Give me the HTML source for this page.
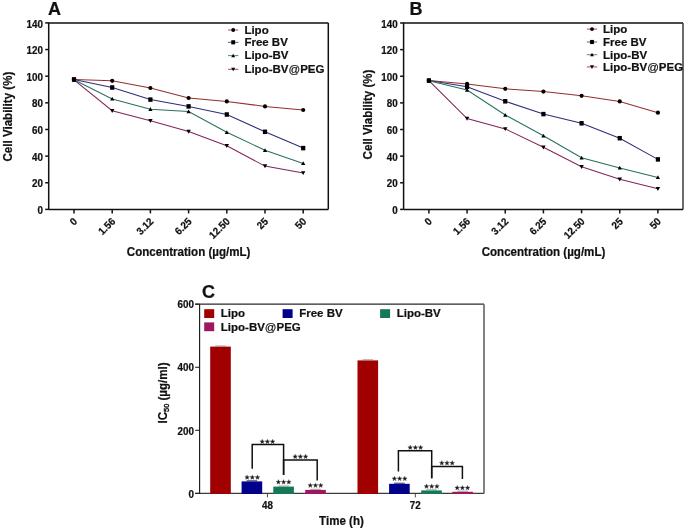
<!DOCTYPE html>
<html><head><meta charset="utf-8"><style>
html,body{margin:0;padding:0;background:#fff;}
svg{display:block;filter:blur(0.3px);}
text{font-family:"Liberation Sans", sans-serif;font-weight:bold;fill:#111;stroke:#111;stroke-width:0.22px;}
</style></head><body>
<svg width="685" height="532" viewBox="0 0 685 532">
<rect width="685" height="532" fill="#fff"/>
<path d="M48.7,209.4V22.9H328.3" fill="none" stroke="#111" stroke-width="1.5"/>
<path d="M328.3,22.9V209.4" fill="none" stroke="#111" stroke-width="1.5"/>
<path d="M48.7,209.4H328.3" fill="none" stroke="#111" stroke-width="1.5"/>
<line x1="45.2" y1="209.40" x2="48.7" y2="209.40" stroke="#111" stroke-width="1.5"/>
<text transform="translate(43.00,214.00) scale(0.945,1)" text-anchor="end" font-size="10.4">0</text>
<line x1="45.2" y1="182.76" x2="48.7" y2="182.76" stroke="#111" stroke-width="1.5"/>
<text transform="translate(43.00,187.36) scale(0.945,1)" text-anchor="end" font-size="10.4">20</text>
<line x1="45.2" y1="156.11" x2="48.7" y2="156.11" stroke="#111" stroke-width="1.5"/>
<text transform="translate(43.00,160.71) scale(0.945,1)" text-anchor="end" font-size="10.4">40</text>
<line x1="45.2" y1="129.47" x2="48.7" y2="129.47" stroke="#111" stroke-width="1.5"/>
<text transform="translate(43.00,134.07) scale(0.945,1)" text-anchor="end" font-size="10.4">60</text>
<line x1="45.2" y1="102.83" x2="48.7" y2="102.83" stroke="#111" stroke-width="1.5"/>
<text transform="translate(43.00,107.43) scale(0.945,1)" text-anchor="end" font-size="10.4">80</text>
<line x1="45.2" y1="76.19" x2="48.7" y2="76.19" stroke="#111" stroke-width="1.5"/>
<text transform="translate(43.00,80.79) scale(0.945,1)" text-anchor="end" font-size="10.4">100</text>
<line x1="45.2" y1="49.54" x2="48.7" y2="49.54" stroke="#111" stroke-width="1.5"/>
<text transform="translate(43.00,54.14) scale(0.945,1)" text-anchor="end" font-size="10.4">120</text>
<line x1="45.2" y1="22.90" x2="48.7" y2="22.90" stroke="#111" stroke-width="1.5"/>
<text transform="translate(43.00,27.50) scale(0.945,1)" text-anchor="end" font-size="10.4">140</text>
<line x1="74.00" y1="209.4" x2="74.00" y2="213.4" stroke="#111" stroke-width="1.5"/>
<text transform="translate(77.80,222.10) rotate(-45) scale(0.945,1)" text-anchor="end" font-size="10.4">0</text>
<line x1="112.20" y1="209.4" x2="112.20" y2="213.4" stroke="#111" stroke-width="1.5"/>
<text transform="translate(116.00,222.10) rotate(-45) scale(0.945,1)" text-anchor="end" font-size="10.4">1.56</text>
<line x1="150.40" y1="209.4" x2="150.40" y2="213.4" stroke="#111" stroke-width="1.5"/>
<text transform="translate(154.20,222.10) rotate(-45) scale(0.945,1)" text-anchor="end" font-size="10.4">3.12</text>
<line x1="188.60" y1="209.4" x2="188.60" y2="213.4" stroke="#111" stroke-width="1.5"/>
<text transform="translate(192.40,222.10) rotate(-45) scale(0.945,1)" text-anchor="end" font-size="10.4">6.25</text>
<line x1="226.80" y1="209.4" x2="226.80" y2="213.4" stroke="#111" stroke-width="1.5"/>
<text transform="translate(230.60,222.10) rotate(-45) scale(0.945,1)" text-anchor="end" font-size="10.4">12.50</text>
<line x1="265.00" y1="209.4" x2="265.00" y2="213.4" stroke="#111" stroke-width="1.5"/>
<text transform="translate(268.80,222.10) rotate(-45) scale(0.945,1)" text-anchor="end" font-size="10.4">25</text>
<line x1="303.20" y1="209.4" x2="303.20" y2="213.4" stroke="#111" stroke-width="1.5"/>
<text transform="translate(307.00,222.10) rotate(-45) scale(0.945,1)" text-anchor="end" font-size="10.4">50</text>
<polyline points="74.00,79.6 112.20,80.8 150.40,88 188.60,98 226.80,101.4 265.00,106.4 303.20,110" fill="none" stroke="#952f2b" stroke-width="1.05"/>
<polyline points="74.00,79.4 112.20,87.5 150.40,99.6 188.60,106.4 226.80,114.5 265.00,131.8 303.20,148.1" fill="none" stroke="#2c2d7c" stroke-width="1.05"/>
<polyline points="74.00,79.8 112.20,98.9 150.40,109.2 188.60,111.6 226.80,132.3 265.00,150.3 303.20,163.4" fill="none" stroke="#287060" stroke-width="1.05"/>
<polyline points="74.00,79.8 112.20,110.7 150.40,120.7 188.60,131.5 226.80,145.8 265.00,166.1 303.20,172.9" fill="none" stroke="#82255c" stroke-width="1.05"/>
<circle cx="74.00" cy="79.6" r="2.10" fill="#000"/>
<circle cx="112.20" cy="80.8" r="2.10" fill="#000"/>
<circle cx="150.40" cy="88" r="2.10" fill="#000"/>
<circle cx="188.60" cy="98" r="2.10" fill="#000"/>
<circle cx="226.80" cy="101.4" r="2.10" fill="#000"/>
<circle cx="265.00" cy="106.4" r="2.10" fill="#000"/>
<circle cx="303.20" cy="110" r="2.10" fill="#000"/>
<rect x="71.90" y="77.15" width="4.20" height="4.50" fill="#000"/>
<rect x="110.10" y="85.25" width="4.20" height="4.50" fill="#000"/>
<rect x="148.30" y="97.35" width="4.20" height="4.50" fill="#000"/>
<rect x="186.50" y="104.15" width="4.20" height="4.50" fill="#000"/>
<rect x="224.70" y="112.25" width="4.20" height="4.50" fill="#000"/>
<rect x="262.90" y="129.55" width="4.20" height="4.50" fill="#000"/>
<rect x="301.10" y="145.85" width="4.20" height="4.50" fill="#000"/>
<path d="M74.00,77.70L76.10,81.48L71.90,81.48Z" fill="#000"/>
<path d="M112.20,96.80L114.30,100.58L110.10,100.58Z" fill="#000"/>
<path d="M150.40,107.10L152.50,110.88L148.30,110.88Z" fill="#000"/>
<path d="M188.60,109.50L190.70,113.28L186.50,113.28Z" fill="#000"/>
<path d="M226.80,130.20L228.90,133.98L224.70,133.98Z" fill="#000"/>
<path d="M265.00,148.20L267.10,151.98L262.90,151.98Z" fill="#000"/>
<path d="M303.20,161.30L305.30,165.08L301.10,165.08Z" fill="#000"/>
<path d="M74.00,82.00L76.20,78.04L71.80,78.04Z" fill="#000"/>
<path d="M112.20,112.90L114.40,108.94L110.00,108.94Z" fill="#000"/>
<path d="M150.40,122.90L152.60,118.94L148.20,118.94Z" fill="#000"/>
<path d="M188.60,133.70L190.80,129.74L186.40,129.74Z" fill="#000"/>
<path d="M226.80,148.00L229.00,144.04L224.60,144.04Z" fill="#000"/>
<path d="M265.00,168.30L267.20,164.34L262.80,164.34Z" fill="#000"/>
<path d="M303.20,175.10L305.40,171.14L301.00,171.14Z" fill="#000"/>
<line x1="228" y1="30" x2="238.4" y2="30" stroke="#952f2b" stroke-width="1.0" opacity="0.8"/>
<circle cx="233.20" cy="30" r="1.93" fill="#000"/>
<text transform="translate(244.40,33.60) scale(0.975,1)" font-size="11.8">Lipo</text>
<line x1="228" y1="42.3" x2="238.4" y2="42.3" stroke="#2c2d7c" stroke-width="1.0" opacity="0.8"/>
<rect x="231.27" y="40.23" width="3.86" height="4.14" fill="#000"/>
<text transform="translate(244.40,46.10) scale(0.975,1)" font-size="11.8">Free BV</text>
<line x1="228" y1="55.6" x2="238.4" y2="55.6" stroke="#287060" stroke-width="1.0" opacity="0.8"/>
<path d="M233.20,53.67L235.13,57.15L231.27,57.15Z" fill="#000"/>
<text transform="translate(244.40,59.30) scale(0.975,1)" font-size="11.8">Lipo-BV</text>
<line x1="228" y1="69.3" x2="238.4" y2="69.3" stroke="#82255c" stroke-width="1.0" opacity="0.8"/>
<path d="M233.20,71.32L235.22,67.68L231.18,67.68Z" fill="#000"/>
<text transform="translate(244.40,72.90) scale(0.975,1)" font-size="11.8">Lipo-BV<tspan font-weight="normal">@</tspan>PEG</text>
<text transform="translate(188.60,255.60) scale(0.965,1)" text-anchor="middle" font-size="12.0">Concentration (µg/mL)</text>
<text transform="translate(11.80,116.60) rotate(-90) scale(0.965,1)" text-anchor="middle" font-size="12.0">Cell Viability (%)</text>
<text transform="translate(48.00,15.20)" font-size="18" stroke-width="0.45">A</text>
<path d="M403.6,209.4V23H683.0" fill="none" stroke="#111" stroke-width="1.5"/>
<path d="M683.0,23V209.4" fill="none" stroke="#3a3a3a" stroke-width="1.5"/>
<path d="M403.6,209.4H683.0" fill="none" stroke="#111" stroke-width="1.5"/>
<line x1="400.1" y1="209.40" x2="403.6" y2="209.40" stroke="#111" stroke-width="1.5"/>
<text transform="translate(397.60,214.00) scale(0.945,1)" text-anchor="end" font-size="10.4">0</text>
<line x1="400.1" y1="182.77" x2="403.6" y2="182.77" stroke="#111" stroke-width="1.5"/>
<text transform="translate(397.60,187.37) scale(0.945,1)" text-anchor="end" font-size="10.4">20</text>
<line x1="400.1" y1="156.14" x2="403.6" y2="156.14" stroke="#111" stroke-width="1.5"/>
<text transform="translate(397.60,160.74) scale(0.945,1)" text-anchor="end" font-size="10.4">40</text>
<line x1="400.1" y1="129.51" x2="403.6" y2="129.51" stroke="#111" stroke-width="1.5"/>
<text transform="translate(397.60,134.11) scale(0.945,1)" text-anchor="end" font-size="10.4">60</text>
<line x1="400.1" y1="102.89" x2="403.6" y2="102.89" stroke="#111" stroke-width="1.5"/>
<text transform="translate(397.60,107.49) scale(0.945,1)" text-anchor="end" font-size="10.4">80</text>
<line x1="400.1" y1="76.26" x2="403.6" y2="76.26" stroke="#111" stroke-width="1.5"/>
<text transform="translate(397.60,80.86) scale(0.945,1)" text-anchor="end" font-size="10.4">100</text>
<line x1="400.1" y1="49.63" x2="403.6" y2="49.63" stroke="#111" stroke-width="1.5"/>
<text transform="translate(397.60,54.23) scale(0.945,1)" text-anchor="end" font-size="10.4">120</text>
<line x1="400.1" y1="23.00" x2="403.6" y2="23.00" stroke="#111" stroke-width="1.5"/>
<text transform="translate(397.60,27.60) scale(0.945,1)" text-anchor="end" font-size="10.4">140</text>
<line x1="428.90" y1="209.4" x2="428.90" y2="213.4" stroke="#111" stroke-width="1.5"/>
<text transform="translate(432.70,222.10) rotate(-45) scale(0.945,1)" text-anchor="end" font-size="10.4">0</text>
<line x1="467.07" y1="209.4" x2="467.07" y2="213.4" stroke="#111" stroke-width="1.5"/>
<text transform="translate(470.87,222.10) rotate(-45) scale(0.945,1)" text-anchor="end" font-size="10.4">1.56</text>
<line x1="505.24" y1="209.4" x2="505.24" y2="213.4" stroke="#111" stroke-width="1.5"/>
<text transform="translate(509.04,222.10) rotate(-45) scale(0.945,1)" text-anchor="end" font-size="10.4">3.12</text>
<line x1="543.41" y1="209.4" x2="543.41" y2="213.4" stroke="#111" stroke-width="1.5"/>
<text transform="translate(547.21,222.10) rotate(-45) scale(0.945,1)" text-anchor="end" font-size="10.4">6.25</text>
<line x1="581.58" y1="209.4" x2="581.58" y2="213.4" stroke="#111" stroke-width="1.5"/>
<text transform="translate(585.38,222.10) rotate(-45) scale(0.945,1)" text-anchor="end" font-size="10.4">12.50</text>
<line x1="619.75" y1="209.4" x2="619.75" y2="213.4" stroke="#111" stroke-width="1.5"/>
<text transform="translate(623.55,222.10) rotate(-45) scale(0.945,1)" text-anchor="end" font-size="10.4">25</text>
<line x1="657.92" y1="209.4" x2="657.92" y2="213.4" stroke="#111" stroke-width="1.5"/>
<text transform="translate(661.72,222.10) rotate(-45) scale(0.945,1)" text-anchor="end" font-size="10.4">50</text>
<polyline points="428.90,80.6 467.07,83.9 505.24,88.8 543.41,91.6 581.58,95.8 619.75,101.4 657.92,112.7" fill="none" stroke="#952f2b" stroke-width="1.05"/>
<polyline points="428.90,80.5 467.07,86.8 505.24,101.3 543.41,114.1 581.58,123.3 619.75,138.2 657.92,159.4" fill="none" stroke="#2c2d7c" stroke-width="1.05"/>
<polyline points="428.90,80.7 467.07,90 505.24,115 543.41,135.8 581.58,157.8 619.75,167.9 657.92,177.4" fill="none" stroke="#287060" stroke-width="1.05"/>
<polyline points="428.90,80.7 467.07,118.6 505.24,128.9 543.41,147.2 581.58,166.8 619.75,179.2 657.92,188.7" fill="none" stroke="#82255c" stroke-width="1.05"/>
<circle cx="428.90" cy="80.6" r="2.10" fill="#000"/>
<circle cx="467.07" cy="83.9" r="2.10" fill="#000"/>
<circle cx="505.24" cy="88.8" r="2.10" fill="#000"/>
<circle cx="543.41" cy="91.6" r="2.10" fill="#000"/>
<circle cx="581.58" cy="95.8" r="2.10" fill="#000"/>
<circle cx="619.75" cy="101.4" r="2.10" fill="#000"/>
<circle cx="657.92" cy="112.7" r="2.10" fill="#000"/>
<rect x="426.80" y="78.25" width="4.20" height="4.50" fill="#000"/>
<rect x="464.97" y="84.55" width="4.20" height="4.50" fill="#000"/>
<rect x="503.14" y="99.05" width="4.20" height="4.50" fill="#000"/>
<rect x="541.31" y="111.85" width="4.20" height="4.50" fill="#000"/>
<rect x="579.48" y="121.05" width="4.20" height="4.50" fill="#000"/>
<rect x="617.65" y="135.95" width="4.20" height="4.50" fill="#000"/>
<rect x="655.82" y="157.15" width="4.20" height="4.50" fill="#000"/>
<path d="M428.90,78.60L431.00,82.38L426.80,82.38Z" fill="#000"/>
<path d="M467.07,87.90L469.17,91.68L464.97,91.68Z" fill="#000"/>
<path d="M505.24,112.90L507.34,116.68L503.14,116.68Z" fill="#000"/>
<path d="M543.41,133.70L545.51,137.48L541.31,137.48Z" fill="#000"/>
<path d="M581.58,155.70L583.68,159.48L579.48,159.48Z" fill="#000"/>
<path d="M619.75,165.80L621.85,169.58L617.65,169.58Z" fill="#000"/>
<path d="M657.92,175.30L660.02,179.08L655.82,179.08Z" fill="#000"/>
<path d="M428.90,82.90L431.10,78.94L426.70,78.94Z" fill="#000"/>
<path d="M467.07,120.80L469.27,116.84L464.87,116.84Z" fill="#000"/>
<path d="M505.24,131.10L507.44,127.14L503.04,127.14Z" fill="#000"/>
<path d="M543.41,149.40L545.61,145.44L541.21,145.44Z" fill="#000"/>
<path d="M581.58,169.00L583.78,165.04L579.38,165.04Z" fill="#000"/>
<path d="M619.75,181.40L621.95,177.44L617.55,177.44Z" fill="#000"/>
<path d="M657.92,190.90L660.12,186.94L655.72,186.94Z" fill="#000"/>
<line x1="586.8" y1="29.1" x2="597.1999999999999" y2="29.1" stroke="#952f2b" stroke-width="1.0" opacity="0.8"/>
<circle cx="592.00" cy="29.1" r="1.93" fill="#000"/>
<text transform="translate(603.10,32.90) scale(0.975,1)" font-size="11.8">Lipo</text>
<line x1="586.8" y1="42" x2="597.1999999999999" y2="42" stroke="#2c2d7c" stroke-width="1.0" opacity="0.8"/>
<rect x="590.07" y="39.93" width="3.86" height="4.14" fill="#000"/>
<text transform="translate(603.10,45.80) scale(0.975,1)" font-size="11.8">Free BV</text>
<line x1="586.8" y1="54.7" x2="597.1999999999999" y2="54.7" stroke="#287060" stroke-width="1.0" opacity="0.8"/>
<path d="M592.00,52.77L593.93,56.25L590.07,56.25Z" fill="#000"/>
<text transform="translate(603.10,58.50) scale(0.975,1)" font-size="11.8">Lipo-BV</text>
<line x1="586.8" y1="66.9" x2="597.1999999999999" y2="66.9" stroke="#82255c" stroke-width="1.0" opacity="0.8"/>
<path d="M592.00,68.92L594.02,65.28L589.98,65.28Z" fill="#000"/>
<text transform="translate(603.10,71.20) scale(0.975,1)" font-size="11.8">Lipo-BV<tspan font-weight="normal">@</tspan>PEG</text>
<text transform="translate(543.50,255.60) scale(0.965,1)" text-anchor="middle" font-size="12.0">Concentration (µg/mL)</text>
<text transform="translate(371.70,114.50) rotate(-90) scale(0.965,1)" text-anchor="middle" font-size="12.0">Cell Viability (%)</text>
<text transform="translate(409.50,15.30)" font-size="18" stroke-width="0.45">B</text>
<path d="M195.2,304.2H484" fill="none" stroke="#2a2a2a" stroke-width="1.3"/>
<path d="M195.2,493.4H484" fill="none" stroke="#3c3c3c" stroke-width="1.3"/>
<path d="M484,304.2V493.4" fill="none" stroke="#626262" stroke-width="1.6"/>
<path d="M199.6,304.2V493.4" fill="none" stroke="#1a1a1a" stroke-width="1.15"/>
<line x1="195.2" y1="493.40" x2="199.6" y2="493.40" stroke="#222" stroke-width="1.1"/>
<text transform="translate(194.00,497.60) scale(0.945,1)" text-anchor="end" font-size="10.4">0</text>
<line x1="195.2" y1="430.33" x2="199.6" y2="430.33" stroke="#222" stroke-width="1.1"/>
<text transform="translate(194.00,434.53) scale(0.945,1)" text-anchor="end" font-size="10.4">200</text>
<line x1="195.2" y1="367.27" x2="199.6" y2="367.27" stroke="#222" stroke-width="1.1"/>
<text transform="translate(194.00,371.47) scale(0.945,1)" text-anchor="end" font-size="10.4">400</text>
<line x1="195.2" y1="304.20" x2="199.6" y2="304.20" stroke="#222" stroke-width="1.1"/>
<text transform="translate(194.00,308.40) scale(0.945,1)" text-anchor="end" font-size="10.4">600</text>
<line x1="267.4" y1="493.4" x2="267.4" y2="497.4" stroke="#333" stroke-width="0.9"/>
<text transform="translate(267.40,509.30) scale(0.945,1)" text-anchor="middle" font-size="10.4">48</text>
<line x1="415.3" y1="493.4" x2="415.3" y2="497.4" stroke="#333" stroke-width="0.9"/>
<text transform="translate(415.30,509.30) scale(0.945,1)" text-anchor="middle" font-size="10.4">72</text>
<rect x="210.2" y="346.6" width="20.6" height="147.40" fill="#a00000"/>
<line x1="215.2" y1="346.0" x2="225.79999999999998" y2="346.0" stroke="#888" stroke-width="0.8"/>
<rect x="241.6" y="481.4" width="20.6" height="12.60" fill="#00008b"/>
<line x1="246.6" y1="480.79999999999995" x2="257.2" y2="480.79999999999995" stroke="#000050" stroke-width="0.8"/>
<rect x="273.3" y="486.6" width="20.6" height="7.40" fill="#137a55"/>
<line x1="278.3" y1="486.0" x2="288.90000000000003" y2="486.0" stroke="#888" stroke-width="0.8"/>
<rect x="305.2" y="489.9" width="20.6" height="4.10" fill="#a0155f"/>
<line x1="310.2" y1="489.29999999999995" x2="320.8" y2="489.29999999999995" stroke="#888" stroke-width="0.8"/>
<rect x="357.5" y="360.4" width="20.6" height="133.60" fill="#a00000"/>
<line x1="362.5" y1="359.79999999999995" x2="373.1" y2="359.79999999999995" stroke="#888" stroke-width="0.8"/>
<rect x="389.1" y="483.8" width="20.6" height="10.20" fill="#00008b"/>
<line x1="394.1" y1="483.2" x2="404.70000000000005" y2="483.2" stroke="#000050" stroke-width="0.8"/>
<rect x="421.2" y="490.4" width="20.6" height="3.60" fill="#137a55"/>
<line x1="426.2" y1="489.79999999999995" x2="436.8" y2="489.79999999999995" stroke="#888" stroke-width="0.8"/>
<rect x="452.3" y="491.8" width="20.6" height="2.20" fill="#a0155f"/>
<line x1="457.3" y1="491.2" x2="467.90000000000003" y2="491.2" stroke="#888" stroke-width="0.8"/>
<path d="M252.2,468.7V444.6H283.6V475" fill="none" stroke="#111" stroke-width="1.5"/>
<path d="M283.6,475V459.9H317.2V480.4" fill="none" stroke="#111" stroke-width="1.5"/>
<path d="M398.4,471.4V450.7H431.7V478.2" fill="none" stroke="#111" stroke-width="1.5"/>
<path d="M431.7,478.2V466.6H462.4V479.1" fill="none" stroke="#111" stroke-width="1.5"/>
<path d="M262.20,439.20L262.85,440.81L264.58,440.93L263.25,442.04L263.67,443.72L262.20,442.80L260.73,443.72L261.15,442.04L259.82,440.93L261.55,440.81ZM267.40,439.20L268.05,440.81L269.78,440.93L268.45,442.04L268.87,443.72L267.40,442.80L265.93,443.72L266.35,442.04L265.02,440.93L266.75,440.81ZM272.60,439.20L273.25,440.81L274.98,440.93L273.65,442.04L274.07,443.72L272.60,442.80L271.13,443.72L271.55,442.04L270.22,440.93L271.95,440.81ZM295.20,454.20L295.85,455.81L297.58,455.93L296.25,457.04L296.67,458.72L295.20,457.80L293.73,458.72L294.15,457.04L292.82,455.93L294.55,455.81ZM300.40,454.20L301.05,455.81L302.78,455.93L301.45,457.04L301.87,458.72L300.40,457.80L298.93,458.72L299.35,457.04L298.02,455.93L299.75,455.81ZM305.60,454.20L306.25,455.81L307.98,455.93L306.65,457.04L307.07,458.72L305.60,457.80L304.13,458.72L304.55,457.04L303.22,455.93L304.95,455.81ZM247.10,474.90L247.75,476.51L249.48,476.63L248.15,477.74L248.57,479.42L247.10,478.50L245.63,479.42L246.05,477.74L244.72,476.63L246.45,476.51ZM252.30,474.90L252.95,476.51L254.68,476.63L253.35,477.74L253.77,479.42L252.30,478.50L250.83,479.42L251.25,477.74L249.92,476.63L251.65,476.51ZM257.50,474.90L258.15,476.51L259.88,476.63L258.55,477.74L258.97,479.42L257.50,478.50L256.03,479.42L256.45,477.74L255.12,476.63L256.85,476.51ZM278.40,479.60L279.05,481.21L280.78,481.33L279.45,482.44L279.87,484.12L278.40,483.20L276.93,484.12L277.35,482.44L276.02,481.33L277.75,481.21ZM283.60,479.60L284.25,481.21L285.98,481.33L284.65,482.44L285.07,484.12L283.60,483.20L282.13,484.12L282.55,482.44L281.22,481.33L282.95,481.21ZM288.80,479.60L289.45,481.21L291.18,481.33L289.85,482.44L290.27,484.12L288.80,483.20L287.33,484.12L287.75,482.44L286.42,481.33L288.15,481.21ZM310.30,483.00L310.95,484.61L312.68,484.73L311.35,485.84L311.77,487.52L310.30,486.60L308.83,487.52L309.25,485.84L307.92,484.73L309.65,484.61ZM315.50,483.00L316.15,484.61L317.88,484.73L316.55,485.84L316.97,487.52L315.50,486.60L314.03,487.52L314.45,485.84L313.12,484.73L314.85,484.61ZM320.70,483.00L321.35,484.61L323.08,484.73L321.75,485.84L322.17,487.52L320.70,486.60L319.23,487.52L319.65,485.84L318.32,484.73L320.05,484.61ZM410.20,445.10L410.85,446.71L412.58,446.83L411.25,447.94L411.67,449.62L410.20,448.70L408.73,449.62L409.15,447.94L407.82,446.83L409.55,446.71ZM415.40,445.10L416.05,446.71L417.78,446.83L416.45,447.94L416.87,449.62L415.40,448.70L413.93,449.62L414.35,447.94L413.02,446.83L414.75,446.71ZM420.60,445.10L421.25,446.71L422.98,446.83L421.65,447.94L422.07,449.62L420.60,448.70L419.13,449.62L419.55,447.94L418.22,446.83L419.95,446.71ZM441.80,460.60L442.45,462.21L444.18,462.33L442.85,463.44L443.27,465.12L441.80,464.20L440.33,465.12L440.75,463.44L439.42,462.33L441.15,462.21ZM447.00,460.60L447.65,462.21L449.38,462.33L448.05,463.44L448.47,465.12L447.00,464.20L445.53,465.12L445.95,463.44L444.62,462.33L446.35,462.21ZM452.20,460.60L452.85,462.21L454.58,462.33L453.25,463.44L453.67,465.12L452.20,464.20L450.73,465.12L451.15,463.44L449.82,462.33L451.55,462.21ZM394.40,476.20L395.05,477.81L396.78,477.93L395.45,479.04L395.87,480.72L394.40,479.80L392.93,480.72L393.35,479.04L392.02,477.93L393.75,477.81ZM399.60,476.20L400.25,477.81L401.98,477.93L400.65,479.04L401.07,480.72L399.60,479.80L398.13,480.72L398.55,479.04L397.22,477.93L398.95,477.81ZM404.80,476.20L405.45,477.81L407.18,477.93L405.85,479.04L406.27,480.72L404.80,479.80L403.33,480.72L403.75,479.04L402.42,477.93L404.15,477.81ZM426.50,483.90L427.15,485.51L428.88,485.63L427.55,486.74L427.97,488.42L426.50,487.50L425.03,488.42L425.45,486.74L424.12,485.63L425.85,485.51ZM431.70,483.90L432.35,485.51L434.08,485.63L432.75,486.74L433.17,488.42L431.70,487.50L430.23,488.42L430.65,486.74L429.32,485.63L431.05,485.51ZM436.90,483.90L437.55,485.51L439.28,485.63L437.95,486.74L438.37,488.42L436.90,487.50L435.43,488.42L435.85,486.74L434.52,485.63L436.25,485.51ZM457.20,485.40L457.85,487.01L459.58,487.13L458.25,488.24L458.67,489.92L457.20,489.00L455.73,489.92L456.15,488.24L454.82,487.13L456.55,487.01ZM462.40,485.40L463.05,487.01L464.78,487.13L463.45,488.24L463.87,489.92L462.40,489.00L460.93,489.92L461.35,488.24L460.02,487.13L461.75,487.01ZM467.60,485.40L468.25,487.01L469.98,487.13L468.65,488.24L469.07,489.92L467.60,489.00L466.13,489.92L466.55,488.24L465.22,487.13L466.95,487.01Z" fill="#1a1a1a" stroke="#555" stroke-width="0.35"/>
<rect x="204.2" y="309.2" width="10" height="8.8" fill="#a00000"/>
<text transform="translate(220.80,317.40) scale(0.975,1)" font-size="11.8">Lipo</text>
<rect x="282.6" y="309.2" width="10" height="8.8" fill="#00008b"/>
<text transform="translate(299.20,317.40) scale(0.975,1)" font-size="11.8">Free BV</text>
<rect x="380.1" y="309.2" width="10" height="8.8" fill="#137a55"/>
<text transform="translate(396.70,317.40) scale(0.975,1)" font-size="11.8">Lipo-BV</text>
<rect x="204.2" y="322.4" width="10" height="8.8" fill="#a0155f"/>
<text transform="translate(220.80,330.60) scale(0.975,1)" font-size="11.8">Lipo-BV<tspan font-weight="normal">@</tspan>PEG</text>
<text transform="translate(341.50,524.50) scale(0.965,1)" text-anchor="middle" font-size="12.0">Time (h)</text>
<text transform="translate(166.6,423.5) rotate(-90) scale(0.965,1)" font-size="12.0">IC<tspan font-size="7.6" font-weight="normal" stroke-width="0.45" dy="2.3">50</tspan><tspan dy="-2.3"> (µg/ml)</tspan></text>
<text transform="translate(202.00,297.70)" font-size="18" stroke-width="0.45">C</text>
</svg></body></html>
